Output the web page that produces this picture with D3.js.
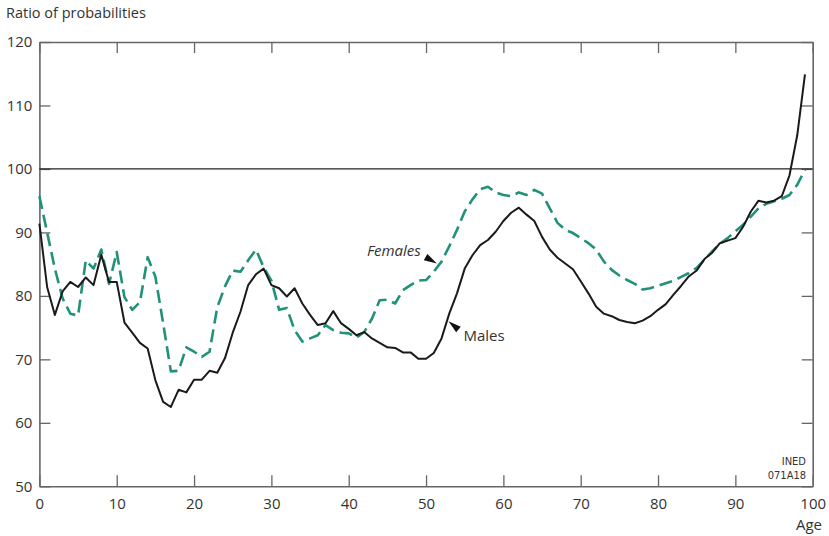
<!DOCTYPE html>
<html>
<head>
<meta charset="utf-8">
<script src="https://cdn.jsdelivr.net/npm/d3@7"></script>
<style>
  html, body { margin: 0; padding: 0; background: #fff; }
  svg { display: block; font-family: "Open Sans", "Noto Sans", sans-serif; }
</style>
</head>
<body>
<svg id="chart" width="829" height="536"></svg>
<script>
const ages = d3.range(0, 100);
const males = [91.4, 81.4, 77, 80.7, 82.2, 81.4, 82.9, 81.7, 86.5, 82.2,
  82.2, 75.8, 74.2, 72.6, 71.7, 66.7, 63.3, 62.5, 65.2, 64.8,
  66.8, 66.8, 68.2, 67.9, 70.2, 74.2, 77.5, 81.7, 83.4, 84.3,
  81.7, 81.2, 79.9, 81.2, 78.8, 77, 75.4, 75.7, 77.6, 75.7,
  74.8, 73.8, 74.3, 73.3, 72.6, 71.9, 71.8, 71.1, 71.1, 70.1,
  70.1, 71, 73.3, 77.2, 80.4, 84.3, 86.4, 88, 88.8, 90.1,
  91.8, 93.1, 93.9, 92.8, 91.8, 89.3, 87.3, 86, 85.1, 84.2,
  82.3, 80.4, 78.3, 77.2, 76.8, 76.2, 75.9, 75.7, 76.1, 76.8,
  77.8, 78.7, 80.2, 81.6, 83.1, 84, 85.8, 86.8, 88.3, 88.7,
  89.1, 90.9, 93.3, 95, 94.7, 95, 95.7, 99, 105.3, 114.9];
const females = [95.7, 90, 84.3, 79.6, 77.2, 76.9, 85.6, 84.3, 87.3, 81.9,
  86.9, 79.8, 77.8, 79, 86.1, 83, 75.7, 68.1, 68.2, 71.9,
  71.2, 70.4, 71.2, 78.2, 81.5, 84, 83.8, 85.6, 87.3, 84.5,
  82.4, 77.8, 78.1, 74.6, 72.8, 73.3, 73.8, 75.4, 74.6, 74.2,
  74.1, 73.4, 74.3, 76.4, 79.3, 79.4, 78.8, 80.9, 81.7, 82.4,
  82.5, 83.8, 85.4, 87.8, 90.4, 93.3, 95.2, 96.8, 97.2, 96.3,
  95.9, 95.7, 96.3, 95.9, 96.7, 96.1, 93.8, 91.5, 90.4, 89.9,
  89.1, 88.3, 87.3, 85.4, 84.1, 83.2, 82.5, 81.9, 81, 81.2,
  81.6, 82, 82.4, 83, 83.6, 84.4, 85.7, 87, 88.2, 89.1,
  90.2, 91.2, 92.5, 93.8, 94.5, 94.9, 95.3, 95.9, 97.5, 99.9];
const xTicks = d3.range(0, 101, 10);
const yTicks = d3.range(50, 121, 10);
const referenceValue = 100;
const annotations = [
  { label: "Females", age: 51.4, value: 85.1, italic: true },
  { label: "Males", age: 52.9, value: 76.0, italic: false }
];

const svg = d3.select("#chart");
const x = d3.scaleLinear().domain([0, 100]).range([39.4, 812.7]);
const y = d3.scaleLinear().domain([50, 120]).range([486.3, 42]);
const frameColor = "#666";
const textColor = "#333";

function styleAxis(g, labels) {
  g.select(".domain").attr("stroke", frameColor).attr("stroke-width", 1.6);
  g.selectAll(".tick line").attr("stroke", frameColor).attr("stroke-width", 1.3);
  g.selectAll(".tick text")
    .attr("fill", textColor)
    .style("font-size", "15px")
    .style("font-family", "'Open Sans', sans-serif");
  if (!labels) g.selectAll(".tick text").remove();
}

// Bottom axis
svg.append("g")
  .attr("transform", `translate(0,${y(50)})`)
  .call(d3.axisBottom(x).tickValues(xTicks).tickSizeInner(-11).tickSizeOuter(0).tickPadding(12))
  .call(g => styleAxis(g, true));
// Top axis
svg.append("g")
  .attr("transform", `translate(0,${y(120)})`)
  .call(d3.axisTop(x).tickValues(xTicks).tickSizeInner(-11).tickSizeOuter(0).tickFormat(""))
  .call(g => styleAxis(g, false));
// Left axis
svg.append("g")
  .attr("transform", `translate(${x(0)},0)`)
  .call(d3.axisLeft(y).tickValues(yTicks).tickSizeInner(-11).tickSizeOuter(0).tickPadding(7))
  .call(g => styleAxis(g, true));
// Right axis
svg.append("g")
  .attr("transform", `translate(${x(100)},0)`)
  .call(d3.axisRight(y).tickValues(yTicks).tickSizeInner(-11).tickSizeOuter(0).tickFormat(""))
  .call(g => styleAxis(g, false));

// Reference line at 100
svg.append("line")
  .attr("x1", x(0)).attr("x2", x(100))
  .attr("y1", y(referenceValue)).attr("y2", y(referenceValue))
  .attr("stroke", "#222").attr("stroke-width", 1.3);

const line = d3.line().x((d, i) => x(ages[i])).y(d => y(d));

svg.append("path")
  .datum(females)
  .attr("fill", "none")
  .attr("stroke", "#22917a")
  .attr("stroke-width", 2.6)
  .attr("stroke-dasharray", "13,6")
  .attr("stroke-linejoin", "round")
  .attr("d", line);

svg.append("path")
  .datum(males)
  .attr("fill", "none")
  .attr("stroke", "#1a1a1a")
  .attr("stroke-width", 2)
  .attr("stroke-linejoin", "round")
  .attr("d", line);

// Annotations (arrow tips anchored to data positions)
const annoOffsets = { Females: { dx: -14, dy: -8, tx: -70, ty: -8 }, Males: { dx: 12, dy: 10, tx: 15, ty: 20 } };
annotations.forEach(a => {
  const tx = x(a.age), ty = y(a.value);
  const o = annoOffsets[a.label];
  const len = Math.hypot(o.dx, o.dy);
  const ux = o.dx / len, uy = o.dy / len;
  const bx = tx + ux * 13, by = ty + uy * 13;
  const px = -uy * 3.6, py = ux * 3.6;
  svg.append("path")
    .attr("d", `M${tx},${ty}L${bx + px},${by + py}L${bx - px},${by - py}Z`)
    .attr("fill", "#111");
  svg.append("text")
    .attr("x", tx + o.tx).attr("y", ty + o.ty)
    .attr("fill", "#333")
    .style("font-size", "15px")
    .style("font-style", a.italic ? "italic" : "normal")
    .text(a.label);
});

// Titles
svg.append("text")
  .attr("x", 6).attr("y", 18)
  .attr("fill", textColor)
  .style("font-size", "14.5px")
  .text("Ratio of probabilities");
svg.append("text")
  .attr("x", 822).attr("y", 530)
  .attr("text-anchor", "end")
  .attr("fill", textColor)
  .style("font-size", "15px")
  .text("Age");

// Source code
const src = svg.append("text")
  .attr("text-anchor", "end")
  .attr("fill", textColor)
  .style("font-family", "'Liberation Sans Narrow', 'DejaVu Sans Condensed', sans-serif")
  .style("font-size", "11px");
src.append("tspan").attr("x", 806).attr("y", 465).text("INED");
src.append("tspan").attr("x", 806).attr("y", 479).text("071A18");
</script>
</body>
</html>
